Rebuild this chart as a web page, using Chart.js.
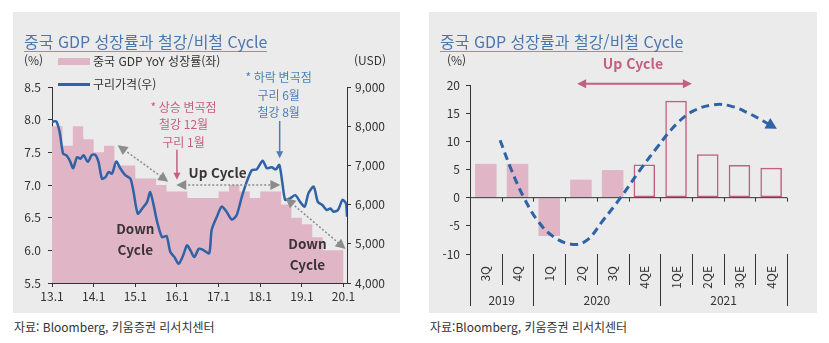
<!DOCTYPE html>
<html lang="ko">
<head>
<meta charset="utf-8">
<script src="https://cdn.jsdelivr.net/npm/chart.js@4.4.0/dist/chart.umd.min.js"></script>
<style>
  body { margin: 0; background: #fff; width: 829px; height: 343px; position: relative; overflow: hidden;
         font-family: 'Noto Sans CJK KR', 'Noto Sans', sans-serif; color: #333; }
  .panel { position: absolute; top: 12px; height: 301px; background: #ebebeb; }
  .panel canvas { position: absolute; left: 0; top: 0; }
  .title { position: absolute; left: 11px; top: 20px; font-size: 16px; line-height: 19px; color: #4a78ad;
           border-bottom: 1px solid #7f97b8; white-space: nowrap; }
  .txt { position: absolute; font-size: 12px; line-height: 16px; white-space: nowrap; color: #333; }
  .swatch { position: absolute; }
  .src { position: absolute; top: 319px; font-size: 12px; line-height: 16px; color: #333; white-space: nowrap; }
</style>
</head>
<body>

<div class="panel" style="left:13px; width:387px;">
  <canvas id="leftChart" width="387" height="301"></canvas>
  <div class="title">중국 GDP 성장률과 철강/비철 Cycle</div>
  <div class="txt" style="left:11px; top:40px;">(%)</div>
  <div class="txt" style="left:341px; top:40px;">(USD)</div>
  <div class="swatch" style="left:45px; top:46px; width:32px; height:7px; background:#e0b6c6;"></div>
  <div class="txt" id="legGdp" style="left:80px; top:41px;"></div>
  <div class="swatch" style="left:45px; top:71px; width:32px; height:3px; background:#2f62a6;"></div>
  <div class="txt" id="legCopper" style="left:80px; top:64px;"></div>
</div>

<div class="panel" style="left:429px; width:388px;">
  <canvas id="rightChart" width="388" height="301"></canvas>
  <div class="title">중국 GDP 성장률과 철강/비철 Cycle</div>
  <div class="txt" style="left:18px; top:40px;">(%)</div>
</div>

<div class="src" style="left:14px;">자료: Bloomberg, 키움증권 리서치센터</div>
<div class="src" style="left:430px;">자료:Bloomberg, 키움증권 리서치센터</div>

<script>
// ---- left chart: quarterly GDP YoY (from 13.1) and copper price (months since 13.1)
const xTickLabels = ['13.1', '14.1', '15.1', '16.1', '17.1', '18.1', '19.1', '20.1'];
const gdpYoY = [7.9, 7.6, 7.9, 7.7, 7.5, 7.6, 7.3, 7.3, 7.1, 7.1, 7.0, 6.9, 6.9, 6.8,
                6.8, 6.8, 6.9, 7.0, 6.9, 6.8, 6.9, 6.9, 6.7, 6.5, 6.4, 6.2, 6.0, 6.0];
const copperMonth = [0, 1.2, 2.2, 3.2, 4.1, 5.1, 6.1, 7.2, 8.2, 9.1, 10.3, 11.5, 12.5, 13.4, 14.4,
                     15.4, 16.3, 17.3, 18.5, 19.7, 21.1, 22.6, 23.5, 24.7, 26.0, 27.4, 28.3, 29.3, 30.3,
                     31.7, 33.0, 34.1, 35.3, 36.5, 37.8, 38.9, 39.9, 41.0, 42.3, 43.6, 45.3, 46.0, 47.5,
                     48.9, 50.3, 51.8, 53.2, 54.7, 56.1, 57.6, 59.0, 60.7, 61.9, 63.3, 64.5, 65.5, 66.4,
                     67.2, 68.6, 70.1, 71.5, 72.8, 73.9, 75.4, 76.6, 77.9, 79.2, 80.2, 81.1, 82.4, 83.7,
                     84.7, 85.0];
const copperPrice = [8110, 8125, 7850, 7300, 7260, 7130, 6930, 7210, 7170, 7260, 7090, 7270, 7270, 7090, 6660,
                     6700, 6830, 6790, 7100, 6920, 6750, 6660, 6320, 5770, 5900, 6070, 6320, 5980, 5560,
                     5170, 5200, 4790, 4660, 4490, 4710, 4960, 4830, 4660, 4875, 4840, 4760, 5350, 5690,
                     5950, 5820, 5620, 5730, 6200, 6580, 6880, 6900, 7120, 6930, 6950, 6900, 7010, 6540,
                     6120, 6160, 6240, 6070, 5950, 6290, 6460, 6070, 5990, 5860, 5900, 5820, 5860, 6120,
                     6030, 5690];

// ---- right chart: quarterly GDP YoY 2019 3Q ~ 2021 4Q (E = estimate)
const quarterLabels = ['3Q', '4Q', '1Q', '2Q', '3Q', '4QE', '1QE', '2QE', '3QE', '4QE'];
const gdpGrowth = [6.0, 6.0, -6.8, 3.2, 4.9, 5.9, 17.2, 7.7, 5.8, 5.3];
const yearLabels = ['2019', '2020', '2021'];
const yearQuarters = [2, 4, 4];
// cycle curve, x in category index units
const cycleX = [0.45, 0.8, 1.2, 1.65, 2.15, 2.75, 3.2, 3.7, 4.25, 4.85, 5.4, 6.0, 6.55, 7.2, 7.7, 8.25, 8.75, 9.1];
const cycleY = [10.2, 5.0, 0.0, -4.2, -7.0, -8.3, -7.5, -4.0, 0.0, 4.8, 8.9, 13.0, 15.4, 16.5, 16.3, 15.1, 13.6, 12.5];

const PINK = '#e0b6c6';
const BLUE = '#2f62a6';
const ROSE = '#c4607f';
const NOTE_BLUE = '#4d7db8';
const GREY = '#8c8c8c';
const INK = '#3a3436';
const AXIS = '#333';
const FONT = "'Noto Sans CJK KR', 'Noto Sans', sans-serif";

Chart.defaults.font.family = FONT;
Chart.defaults.font.size = 12;
Chart.defaults.color = AXIS;

document.getElementById('legGdp').textContent = '중국 GDP YoY 성장률(좌)';
document.getElementById('legCopper').textContent = '구리가격(우)';

function arrowHead(ctx, x, y, a, len, half, color) {
  ctx.save();
  ctx.fillStyle = color;
  ctx.beginPath();
  ctx.moveTo(x, y);
  ctx.lineTo(x - len * Math.cos(a) - half * Math.sin(a), y - len * Math.sin(a) + half * Math.cos(a));
  ctx.lineTo(x - len * Math.cos(a) + half * Math.sin(a), y - len * Math.sin(a) - half * Math.cos(a));
  ctx.closePath();
  ctx.fill();
  ctx.restore();
}

function arrow(ctx, x1, y1, x2, y2, opt) {
  const a = Math.atan2(y2 - y1, x2 - x1);
  const head = opt.head, half = opt.half;
  ctx.save();
  ctx.strokeStyle = opt.color;
  ctx.lineWidth = opt.width;
  ctx.setLineDash(opt.dash || []);
  ctx.beginPath();
  const s = opt.both ? head * 0.8 : 0;
  ctx.moveTo(x1 + s * Math.cos(a), y1 + s * Math.sin(a));
  ctx.lineTo(x2 - head * 0.8 * Math.cos(a), y2 - head * 0.8 * Math.sin(a));
  ctx.stroke();
  ctx.restore();
  arrowHead(ctx, x2, y2, a, head, half, opt.color);
  if (opt.both) arrowHead(ctx, x1, y1, a + Math.PI, head, half, opt.color);
}

function text(ctx, str, x, y, size, weight, color) {
  ctx.save();
  ctx.font = weight + ' ' + size + 'px ' + FONT;
  ctx.fillStyle = color;
  ctx.textAlign = 'center';
  ctx.textBaseline = 'middle';
  ctx.fillText(str, x, y);
  ctx.restore();
}

// notes on the left chart, positioned in (month, left-axis %) units
const turnNotes = [
  { lines: ['* 상승 변곡점', '철강 12월', '구리 1월'], m: 37.9, v: 8.19, color: ROSE },
  { lines: ['* 하락 변곡점', '구리 6월', '철강 8월'], m: 65.3, v: 8.64, color: NOTE_BLUE }
];
const turnArrows = [
  { m: 36.0, from: 7.54, to: 7.08, color: ROSE },
  { m: 65.6, from: 7.98, to: 7.41, color: NOTE_BLUE }
];
const cycleArrows = [[18.9, 7.61, 33.5, 7.05], [35.8, 7.0, 65.8, 7.0], [67.3, 6.80, 84.6, 6.02]];
const cycleTexts = [
  { lines: ['Up Cycle'], m: 47.7, v: 7.18 },
  { lines: ['Down', 'Cycle'], m: 24.0, v: 6.33 },
  { lines: ['Down', 'Cycle'], m: 73.6, v: 6.10 }
];

const leftNotes = {
  id: 'leftNotes',
  afterDatasetsDraw(chart) {
    const ctx = chart.ctx, x = chart.scales.x, y = chart.scales.y;
    cycleArrows.forEach(([m1, v1, m2, v2]) => {
      arrow(ctx, x.getPixelForValue(m1), y.getPixelForValue(v1), x.getPixelForValue(m2), y.getPixelForValue(v2),
        { color: GREY, width: 1.5, dash: [2, 2], head: 10, half: 5, both: true });
    });
    turnArrows.forEach(t => {
      const px = x.getPixelForValue(t.m);
      arrow(ctx, px, y.getPixelForValue(t.from), px, y.getPixelForValue(t.to),
        { color: t.color, width: 1.5, head: 7, half: 3.5 });
    });
    turnNotes.forEach(n => {
      const px = x.getPixelForValue(n.m), py = y.getPixelForValue(n.v);
      n.lines.forEach((l, i) => text(ctx, l, px, py + i * 17.5, 12, 'normal', n.color));
    });
    cycleTexts.forEach(c => {
      const px = x.getPixelForValue(c.m), py = y.getPixelForValue(c.v);
      c.lines.forEach((l, i) => text(ctx, l, px, py + i * 21.5, 13.5, 'bold', INK));
    });
  }
};

const gdpSteps = gdpYoY.map((v, i) => ({ x: i * 3, y: v }));
gdpSteps.push({ x: gdpYoY.length * 3, y: gdpYoY[gdpYoY.length - 1] });

new Chart(document.getElementById('leftChart'), {
  type: 'line',
  data: {
    datasets: [
      {
        label: '구리가격(우)',
        data: copperMonth.map((m, i) => ({ x: m, y: copperPrice[i] })),
        yAxisID: 'y2',
        borderColor: BLUE,
        borderWidth: 2.5,
        pointRadius: 0,
        tension: 0.25,
        order: 0
      },
      {
        label: '중국 GDP YoY 성장률(좌)',
        data: gdpSteps,
        yAxisID: 'y',
        stepped: true,
        fill: 'start',
        backgroundColor: PINK,
        borderColor: 'rgba(0,0,0,0)',
        borderWidth: 0,
        pointRadius: 0,
        order: 1
      }
    ]
  },
  options: {
    responsive: false,
    animation: false,
    layout: { padding: { top: 75 } },
    plugins: { legend: { display: false }, tooltip: { enabled: false } },
    scales: {
      x: {
        type: 'linear',
        min: 0,
        max: 85,
        afterBuildTicks: s => { s.ticks = xTickLabels.map((_, i) => ({ value: i * 12 })); },
        afterFit: s => { s.height = 30; },
        ticks: { callback: v => xTickLabels[v / 12], padding: 2, maxRotation: 0 },
        grid: { drawOnChartArea: false, tickLength: 4, color: AXIS },
        border: { color: AXIS }
      },
      y: {
        position: 'left',
        min: 5.5,
        max: 8.5,
        afterFit: s => { s.width = 39; },
        ticks: { stepSize: 0.5, callback: v => v.toFixed(1), padding: 7 },
        grid: { drawOnChartArea: false, tickLength: 4, color: AXIS },
        border: { color: AXIS }
      },
      y2: {
        position: 'right',
        min: 4000,
        max: 9000,
        afterFit: s => { s.width = 53; },
        ticks: { stepSize: 1000, callback: v => v.toLocaleString('en-US'), padding: 4 },
        grid: { drawOnChartArea: false, tickLength: 4, color: AXIS },
        border: { color: AXIS }
      }
    }
  },
  plugins: [leftNotes]
});

// right chart decorations: zero axis, category separators, years, arrows
const upCycle = { from: 2.88, to: 6.5, v: 20.2, textX: 4.64, textV: 23.7 };

const rightDecor = {
  id: 'rightDecor',
  afterDatasetDraw(chart, args) {
    if (args.index !== 0) return;
    const ctx = chart.ctx, area = chart.chartArea, y = chart.scales.y;
    const y0 = y.getPixelForValue(0);
    const w = (area.right - area.left) / quarterLabels.length;
    ctx.save();
    ctx.strokeStyle = AXIS;
    ctx.lineWidth = 1;
    ctx.beginPath();
    ctx.moveTo(area.left, y0);
    ctx.lineTo(area.right, y0);
    for (let k = 1; k <= quarterLabels.length; k++) {
      const px = Math.round(area.left + k * w) + 0.5;
      ctx.moveTo(px, y0);
      ctx.lineTo(px, y0 + 4);
    }
    ctx.stroke();
    ctx.restore();
  },
  afterDraw(chart) {
    const ctx = chart.ctx, area = chart.chartArea, y = chart.scales.y, xc = chart.scales.xc;
    const w = (area.right - area.left) / quarterLabels.length;
    const yearEdges = [0];
    yearQuarters.forEach(n => yearEdges.push(yearEdges[yearEdges.length - 1] + n));

    ctx.save();
    ctx.strokeStyle = AXIS;
    ctx.lineWidth = 1;
    ctx.beginPath();
    for (let k = 0; k <= quarterLabels.length; k++) {
      const px = Math.round(area.left + k * w) + 0.5;
      const long = yearEdges.includes(k);
      ctx.moveTo(px, area.bottom);
      ctx.lineTo(px, area.bottom + (long ? 52 : 31));
    }
    ctx.stroke();
    ctx.restore();

    yearLabels.forEach((lab, i) => {
      const cx = area.left + (yearEdges[i] + yearEdges[i + 1]) / 2 * w;
      text(ctx, lab, cx, area.bottom + 46, 12, 'normal', AXIS);
    });

    // arrowhead at the end of the cycle curve
    const pts = chart.getDatasetMeta(1).data;
    const last = pts[pts.length - 1];
    const a = Math.atan2(last.y - last.cp1y, last.x - last.cp1x);
    arrowHead(ctx, last.x + 3 * Math.cos(a), last.y + 3 * Math.sin(a), a, 11, 6, BLUE);

    // up cycle span
    const yy = y.getPixelForValue(upCycle.v);
    arrow(ctx, xc.getPixelForValue(upCycle.from), yy, xc.getPixelForValue(upCycle.to), yy,
      { color: ROSE, width: 2, head: 9, half: 4.5, both: true });
    text(ctx, 'Up Cycle', xc.getPixelForValue(upCycle.textX), y.getPixelForValue(upCycle.textV), 14, 'bold', ROSE);
  }
};

const isEstimate = quarterLabels.map(l => l.endsWith('E'));

new Chart(document.getElementById('rightChart'), {
  type: 'bar',
  data: {
    labels: quarterLabels,
    datasets: [
      {
        label: 'GDP YoY',
        data: gdpGrowth,
        backgroundColor: isEstimate.map(e => e ? 'rgba(0,0,0,0)' : PINK),
        borderColor: isEstimate.map(e => e ? ROSE : PINK),
        borderWidth: isEstimate.map(e => e ? 1.5 : 0),
        borderSkipped: false,
        grouped: false,
        barPercentage: 0.68,
        categoryPercentage: 1.0,
        order: 1
      },
      {
        type: 'line',
        label: 'cycle',
        data: cycleX.map((x, i) => ({ x: x, y: cycleY[i] })),
        xAxisID: 'xc',
        borderColor: BLUE,
        borderWidth: 3,
        borderDash: [8, 5],
        pointRadius: 0,
        tension: 0.4,
        fill: false,
        order: 0
      }
    ]
  },
  options: {
    responsive: false,
    animation: false,
    layout: { padding: { top: 73, right: 30 } },
    plugins: { legend: { display: false }, tooltip: { enabled: false } },
    scales: {
      x: {
        type: 'category',
        offset: true,
        afterFit: s => { s.height = 59; },
        ticks: { minRotation: 90, maxRotation: 90, padding: 4 },
        grid: { display: false },
        border: { display: false }
      },
      // same span as the category axis, used for the curve's fractional positions
      xc: {
        type: 'linear',
        position: 'top',
        offset: false,
        min: -0.5,
        max: 9.5,
        afterFit: s => { s.height = 0; },
        ticks: { display: false },
        grid: { display: false, offset: false },
        border: { display: false }
      },
      y: {
        min: -10,
        max: 20,
        afterFit: s => { s.width = 41; },
        ticks: { stepSize: 5, padding: 6 },
        grid: { drawOnChartArea: false, tickLength: 4, color: AXIS },
        border: { color: AXIS }
      }
    }
  },
  plugins: [rightDecor]
});
</script>
</body>
</html>
